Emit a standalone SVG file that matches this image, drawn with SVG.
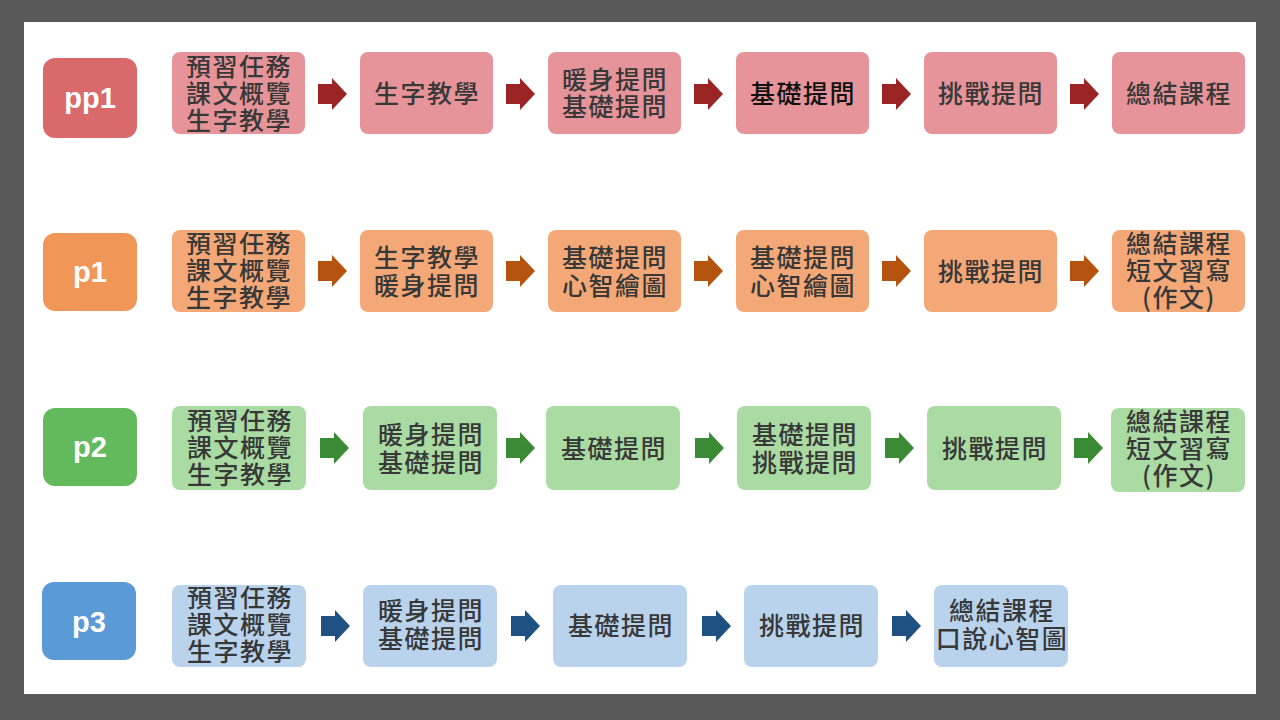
<svg xmlns="http://www.w3.org/2000/svg" width="1280" height="720" viewBox="0 0 1280 720">
<defs>
<style>
.t{font-family:"Noto Sans CJK TC","Noto Sans CJK SC",sans-serif;font-size:25px;font-weight:500;letter-spacing:1.5px;fill:#383838;text-anchor:middle;dominant-baseline:central}
.lb{font-family:"Liberation Sans",Arial,sans-serif;font-size:29px;font-weight:bold;fill:#ffffff;text-anchor:middle;dominant-baseline:central}
.r1{fill:#e69499}.r2{fill:#f4a877}.r3{fill:#a9dba2}.r4{fill:#bad3ed}
.a1{fill:#9a2524}.a2{fill:#b5540f}.a3{fill:#3b8a34}.a4{fill:#1f5183}
</style>
<path id="arr" d="M0,-10 H14 V-16 L29,0 L14,16 V10 H0 Z"/>
</defs>
<rect x="0" y="0" width="1280" height="720" fill="#595959"/>
<rect x="24" y="22" width="1232" height="672" fill="#ffffff"/>

<g id="connectors">
<use href="#arr" class="a1" x="318" y="94"/>
<use href="#arr" class="a1" x="506" y="94"/>
<use href="#arr" class="a1" x="694" y="94"/>
<use href="#arr" class="a1" x="882" y="94"/>
<use href="#arr" class="a1" x="1070" y="94"/>
<use href="#arr" class="a2" x="318" y="271"/>
<use href="#arr" class="a2" x="506" y="271"/>
<use href="#arr" class="a2" x="694" y="271"/>
<use href="#arr" class="a2" x="882" y="271"/>
<use href="#arr" class="a2" x="1070" y="271"/>
<use href="#arr" class="a3" x="320" y="448"/>
<use href="#arr" class="a3" x="506" y="448"/>
<use href="#arr" class="a3" x="695" y="448"/>
<use href="#arr" class="a3" x="885" y="448"/>
<use href="#arr" class="a3" x="1074" y="448"/>
<use href="#arr" class="a4" x="321" y="626"/>
<use href="#arr" class="a4" x="511" y="626"/>
<use href="#arr" class="a4" x="702" y="626"/>
<use href="#arr" class="a4" x="892" y="626"/>
</g>

<!-- Row 1 -->
<g id="pp1"><rect x="43" y="58" width="94" height="80" rx="12" fill="#d9696a"/><text class="lb" x="90" y="98">pp1</text></g>
<g id="r1n1"><rect class="r1" x="172" y="52" width="133" height="82" rx="8"/><text class="t"><tspan x="239" y="65">預習任務</tspan><tspan x="239" y="92">課文概覽</tspan><tspan x="239" y="119">生字教學</tspan></text></g>
<g id="r1n2"><rect class="r1" x="360" y="52" width="133" height="82" rx="8"/><text class="t" x="427" y="92">生字教學</text></g>
<g id="r1n3"><rect class="r1" x="548" y="52" width="133" height="82" rx="8"/><text class="t"><tspan x="615" y="78">暖身提問</tspan><tspan x="615" y="105">基礎提問</tspan></text></g>
<g id="r1n4"><rect class="r1" x="736" y="52" width="133" height="82" rx="8"/><text class="t" x="803" y="92" style="fill:#111111">基礎提問</text></g>
<g id="r1n5"><rect class="r1" x="924" y="52" width="133" height="82" rx="8"/><text class="t" x="991" y="92">挑戰提問</text></g>
<g id="r1n6"><rect class="r1" x="1112" y="52" width="133" height="82" rx="8"/><text class="t" x="1179" y="92">總結課程</text></g>

<!-- Row 2 -->
<g id="p1"><rect x="43" y="233" width="94" height="78" rx="12" fill="#f09656"/><text class="lb" x="90" y="272">p1</text></g>
<g id="r2n1"><rect class="r2" x="172" y="230" width="133" height="82" rx="8"/><text class="t"><tspan x="239" y="242">預習任務</tspan><tspan x="239" y="269">課文概覽</tspan><tspan x="239" y="296">生字教學</tspan></text></g>
<g id="r2n2"><rect class="r2" x="360" y="230" width="133" height="82" rx="8"/><text class="t"><tspan x="427" y="256">生字教學</tspan><tspan x="427" y="284">暖身提問</tspan></text></g>
<g id="r2n3"><rect class="r2" x="548" y="230" width="133" height="82" rx="8"/><text class="t"><tspan x="615" y="256">基礎提問</tspan><tspan x="615" y="284">心智繪圖</tspan></text></g>
<g id="r2n4"><rect class="r2" x="736" y="230" width="133" height="82" rx="8"/><text class="t"><tspan x="803" y="256">基礎提問</tspan><tspan x="803" y="284">心智繪圖</tspan></text></g>
<g id="r2n5"><rect class="r2" x="924" y="230" width="133" height="82" rx="8"/><text class="t" x="991" y="270">挑戰提問</text></g>
<g id="r2n6"><rect class="r2" x="1112" y="230" width="133" height="82" rx="8"/><text class="t"><tspan x="1179" y="242">總結課程</tspan><tspan x="1179" y="269">短文習寫</tspan><tspan x="1179" y="296">(作文)</tspan></text></g>

<!-- Row 3 -->
<g id="p2"><rect x="43" y="408" width="94" height="78" rx="12" fill="#63ba5d"/><text class="lb" x="90" y="447">p2</text></g>
<g id="r3n1"><rect class="r3" x="172" y="406" width="134" height="84" rx="8"/><text class="t"><tspan x="240" y="419">預習任務</tspan><tspan x="240" y="446">課文概覽</tspan><tspan x="240" y="473">生字教學</tspan></text></g>
<g id="r3n2"><rect class="r3" x="363" y="406" width="134" height="84" rx="8"/><text class="t"><tspan x="431" y="433">暖身提問</tspan><tspan x="431" y="461">基礎提問</tspan></text></g>
<g id="r3n3"><rect class="r3" x="546" y="406" width="134" height="84" rx="8"/><text class="t" x="614" y="447">基礎提問</text></g>
<g id="r3n4"><rect class="r3" x="737" y="406" width="134" height="84" rx="8"/><text class="t"><tspan x="805" y="433">基礎提問</tspan><tspan x="805" y="461">挑戰提問</tspan></text></g>
<g id="r3n5"><rect class="r3" x="927" y="406" width="134" height="84" rx="8"/><text class="t" x="995" y="447">挑戰提問</text></g>
<g id="r3n6"><rect class="r3" x="1111" y="408" width="134" height="84" rx="8"/><text class="t"><tspan x="1179" y="420">總結課程</tspan><tspan x="1179" y="447">短文習寫</tspan><tspan x="1179" y="474">(作文)</tspan></text></g>

<!-- Row 4 -->
<g id="p3"><rect x="42" y="582" width="94" height="78" rx="12" fill="#5a9ad6"/><text class="lb" x="89" y="622">p3</text></g>
<g id="r4n1"><rect class="r4" x="172" y="585" width="134" height="82" rx="8"/><text class="t"><tspan x="240" y="596">預習任務</tspan><tspan x="240" y="623">課文概覽</tspan><tspan x="240" y="650">生字教學</tspan></text></g>
<g id="r4n2"><rect class="r4" x="363" y="585" width="134" height="82" rx="8"/><text class="t"><tspan x="431" y="609">暖身提問</tspan><tspan x="431" y="637">基礎提問</tspan></text></g>
<g id="r4n3"><rect class="r4" x="553" y="585" width="134" height="82" rx="8"/><text class="t" x="621" y="624">基礎提問</text></g>
<g id="r4n4"><rect class="r4" x="744" y="585" width="134" height="82" rx="8"/><text class="t" x="812" y="624">挑戰提問</text></g>
<g id="r4n5"><rect class="r4" x="934" y="585" width="134" height="82" rx="8"/><text class="t"><tspan x="1002" y="609">總結課程</tspan><tspan x="1002" y="637">口說心智圖</tspan></text></g>
</svg>
